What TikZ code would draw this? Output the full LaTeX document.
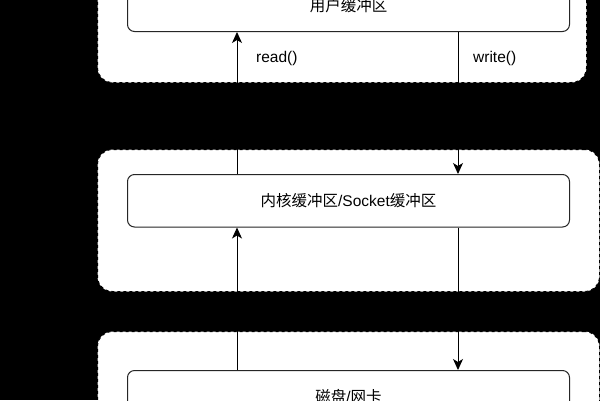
\documentclass[tikz,border=0pt]{standalone}
\usepackage{fontspec}
\setmainfont{Liberation Sans}
\newfontfamily\cjk{Noto Sans CJK SC}
\usetikzlibrary{arrows.meta}
\tikzset{
  groupbox/.style={draw=black, fill=white, line width=1pt, dash pattern=on 3pt off 3pt, rounded corners=15pt, anchor=north west, inner sep=0pt},
  bufbox/.style={draw=black!85, fill=white, line width=1pt, rounded corners=7pt, anchor=north west, minimum width=442pt, minimum height=52.5pt, inner sep=0pt, font=\fontsize{15.5}{18}\selectfont},
  lbl/.style={anchor=west, inner sep=0pt, font=\fontsize{15.5}{18}\selectfont},
  arr/.style={draw=black, line width=1pt, -{Stealth[length=11pt,width=10pt,inset=3pt]}}
}
\begin{document}
\begin{tikzpicture}[x=1pt,y=-1pt]
\fill[black] (0,0) rectangle (600,400);
\useasboundingbox (0,0) rectangle (600,400);
\begin{scope}
\clip (0,0) rectangle (600,400);
\node[groupbox, minimum width=489pt, minimum height=129pt] (g1) at (97,-47) {};
\node[groupbox, minimum width=502pt, minimum height=142pt] (g2) at (97,149) {};
\node[groupbox, minimum width=502pt, minimum height=142pt] (g3) at (97,331) {};
\node[bufbox] (user) at (127,-21.5) {{\cjk 用户缓冲区}};
\node[bufbox] (kernel) at (127,174) {{\cjk 内核缓冲区}/Socket{\cjk 缓冲区}};
\node[bufbox] (disk) at (127,370) {{\cjk 磁盘}/{\cjk 网卡}};
\coordinate (rx) at (237,0);
\coordinate (wx) at (458,0);
\draw[arr] (kernel.north -| rx) -- (user.south -| rx);
\draw[arr] (user.south -| wx) -- (kernel.north -| wx);
\draw[arr] (disk.north -| rx) -- (kernel.south -| rx);
\draw[arr] (kernel.south -| wx) -- (disk.north -| wx);
\node[lbl] (readl) at (256,58) {read()};
\node[lbl] (writel) at (473,58) {write()};
\end{scope}
\end{tikzpicture}
\end{document}
